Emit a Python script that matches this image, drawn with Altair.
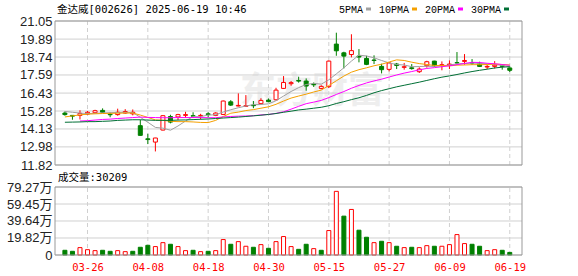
import altair as alt
import pandas as pd

# ---------------- data ----------------
dates = ["03-21", "03-24", "03-25", "03-26", "03-27", "03-28", "03-31", "04-01", "04-02", "04-03",
         "04-07", "04-08", "04-09", "04-10", "04-11", "04-14", "04-15", "04-16", "04-17", "04-18",
         "04-21", "04-22", "04-23", "04-24", "04-25", "04-28", "04-29", "04-30", "05-06", "05-07",
         "05-08", "05-09", "05-12", "05-13", "05-14", "05-15", "05-16", "05-19", "05-20", "05-21",
         "05-22", "05-23", "05-26", "05-27", "05-28", "05-29", "05-30", "06-03", "06-04", "06-05",
         "06-06", "06-09", "06-10", "06-11", "06-12", "06-13", "06-16", "06-17", "06-18", "06-19"]

opens = [15.15, 15.00, 15.00, 15.08, 15.17, 15.32, 15.07, 15.05, 15.15, 15.10,
         14.34, 13.50, 13.29, 14.06, 14.93, 14.90, 15.00, 14.98, 14.97, 15.10,
         15.00, 15.06, 15.87, 15.60, 15.58, 15.66, 15.75, 15.98, 16.00, 16.73,
         17.03, 17.24, 17.20, 17.00, 16.73, 16.84, 19.57, 19.01, 18.90, 18.80,
         18.65, 18.55, 18.14, 17.95, 18.29, 18.08, 18.05, 17.80, 18.18, 18.48,
         18.20, 18.23, 18.38, 18.46, 18.38, 18.31, 18.10, 18.14, 18.18, 18.04]
highs = [15.25, 15.02, 15.33, 15.28, 15.36, 15.45, 15.19, 15.43, 15.40, 15.38,
         14.72, 13.82, 13.56, 15.02, 15.04, 15.10, 15.23, 15.20, 15.10, 15.20,
         15.20, 15.95, 15.98, 16.41, 16.30, 15.92, 16.10, 16.08, 16.77, 17.52,
         17.20, 17.48, 17.37, 17.11, 16.93, 18.52, 20.30, 19.08, 20.20, 19.25,
         18.82, 18.85, 18.31, 18.42, 18.36, 18.36, 18.29, 18.08, 18.50, 18.50,
         18.46, 18.53, 19.06, 18.93, 18.61, 18.44, 18.23, 18.48, 18.27, 18.14]
lows = [14.98, 14.72, 14.74, 15.05, 15.15, 15.18, 14.88, 14.98, 15.10, 15.00,
        13.70, 13.16, 12.69, 14.04, 14.49, 14.70, 14.85, 14.83, 14.74, 14.87,
        14.95, 15.04, 15.60, 15.58, 15.56, 15.46, 15.70, 15.84, 15.96, 16.70,
        16.90, 17.10, 16.58, 16.82, 16.67, 16.75, 18.82, 18.01, 18.72, 18.40,
        18.22, 18.29, 17.69, 17.82, 17.97, 17.93, 17.93, 17.72, 18.06, 18.10,
        17.89, 17.97, 18.25, 18.25, 18.23, 18.10, 17.97, 18.00, 17.93, 17.78]
closes = [15.05, 14.95, 15.13, 15.20, 15.30, 15.20, 15.04, 15.20, 15.25, 15.20,
          13.72, 13.45, 13.55, 14.98, 14.57, 15.05, 15.05, 14.95, 15.00, 15.06,
          15.15, 15.92, 15.66, 15.64, 15.62, 15.62, 15.96, 15.88, 16.62, 17.11,
          17.10, 17.20, 16.88, 16.96, 16.86, 18.48, 19.14, 18.80, 19.15, 18.74,
          18.27, 18.52, 17.93, 18.36, 18.20, 18.12, 18.00, 17.97, 18.44, 18.18,
          18.25, 18.29, 18.36, 18.52, 18.35, 18.14, 18.14, 18.22, 18.14, 17.89]

# volume in 万 (10k)
volumes = [5.5, 4.3, 8.6, 6.2, 5.1, 5.5, 4.3, 5.1, 3.9, 4.3,
           9.0, 11.3, 9.8, 14.4, 12.5, 9.8, 5.1, 5.5, 3.9, 4.3,
           5.1, 18.0, 12.5, 15.6, 10.2, 9.0, 12.1, 7.8, 15.6, 21.5,
           9.8, 6.6, 12.5, 7.4, 5.5, 28.5, 74.2, 45.3, 53.1, 28.9,
           20.7, 14.4, 16.0, 14.4, 10.2, 8.6, 9.0, 8.6, 10.9, 10.2,
           10.2, 12.1, 23.8, 13.3, 12.5, 10.2, 5.1, 6.2, 5.5, 3.02]
# 1 = red (up) volume bar, 0 = green
volume_up = [0, 0, 1, 1, 1, 0, 0, 1, 1, 0,
             0, 0, 1, 1, 0, 1, 1, 0, 1, 0,
             1, 1, 0, 1, 1, 0, 1, 0, 1, 1,
             1, 0, 0, 1, 0, 1, 1, 0, 1, 0,
             0, 1, 0, 1, 0, 1, 0, 1, 1, 0,
             1, 1, 1, 1, 0, 0, 1, 1, 0, 0]

ma5 = [15.25, 15.20, 15.15, 15.12, 15.13, 15.16, 15.17, 15.19, 15.20, 15.18,
       14.88, 14.56, 14.23, 14.18, 14.05, 14.32, 14.64, 14.92, 14.92, 15.02,
       15.04, 15.22, 15.36, 15.49, 15.60, 15.69, 15.70, 15.74, 15.94, 16.24,
       16.53, 16.78, 16.98, 17.05, 17.00, 17.28, 17.66, 18.05, 18.48, 18.86,
       18.81, 18.69, 18.52, 18.36, 18.26, 18.23, 18.12, 18.13, 18.15, 18.14,
       18.17, 18.23, 18.30, 18.32, 18.35, 18.33, 18.30, 18.27, 18.20, 18.11]
ma10 = [14.90, 14.97, 15.03, 15.08, 15.10, 15.12, 15.13, 15.14, 15.15, 15.15,
        15.02, 14.87, 14.71, 14.69, 14.62, 14.60, 14.60, 14.58, 14.55, 14.54,
        14.68, 14.93, 15.14, 15.21, 15.31, 15.37, 15.46, 15.55, 15.71, 15.92,
        16.11, 16.24, 16.36, 16.50, 16.62, 16.91, 17.22, 17.52, 17.77, 17.93,
        18.05, 18.18, 18.28, 18.42, 18.56, 18.52, 18.41, 18.32, 18.26, 18.20,
        18.20, 18.17, 18.22, 18.23, 18.25, 18.25, 18.26, 18.29, 18.26, 18.23]
ma20 = [None, None, 14.64, 14.66, 14.70, 14.74, 14.76, 14.80, 14.83, 14.86,
        14.89, 14.87, 14.86, 14.85, 14.85, 14.86, 14.86, 14.86, 14.86, 14.85,
        14.85, 14.90, 14.93, 14.95, 14.96, 14.98, 15.03, 15.06, 15.13, 15.23,
        15.40, 15.58, 15.75, 15.85, 15.96, 16.14, 16.34, 16.53, 16.74, 16.92,
        17.08, 17.21, 17.32, 17.46, 17.59, 17.71, 17.81, 17.92, 18.01, 18.06,
        18.12, 18.18, 18.25, 18.33, 18.40, 18.39, 18.34, 18.31, 18.26, 18.21]
ma30 = [14.56, 14.57, 14.58, 14.60, 14.60, 14.62, 14.64, 14.68, 14.70, 14.72,
        14.72, 14.70, 14.68, 14.68, 14.68, 14.70, 14.71, 14.73, 14.75, 14.77,
        14.80, 14.83, 14.86, 14.89, 14.93, 14.97, 15.01, 15.06, 15.12, 15.20,
        15.27, 15.35, 15.40, 15.46, 15.52, 15.62, 15.76, 15.88, 16.01, 16.13,
        16.28, 16.45, 16.59, 16.71, 16.83, 16.93, 17.03, 17.13, 17.24, 17.35,
        17.45, 17.53, 17.62, 17.72, 17.81, 17.89, 17.96, 18.04, 18.09, 18.12]

price_ticks = [11.82, 12.98, 14.13, 15.28, 16.43, 17.59, 18.74, 19.89, 21.05]
volume_ticks = [0, 19.82, 39.64, 59.45, 79.27]
label_dates = ["03-26", "04-08", "04-18", "04-30", "05-15", "05-27", "06-09", "06-19"]

title_text = "金达威[002626] 2025-06-19 10:46"
volume_title = "成交量:30209"
watermark_text = "东方财富"
ma_names = ["5PMA", "10PMA", "20PMA", "30PMA"]
ma_colors = ["#a0a0a0", "#f5a000", "#ff00ff", "#006f35"]

# ---------------- styling / layout ----------------
RED = "#ff0000"
GREEN = "#008000"
GRID = "#d0d0d0"
FRAME = "#999999"
MONO = "DejaVu Sans Mono, Noto Sans CJK SC"
SANS = "Liberation Sans, Noto Sans CJK SC"
W = 467            # plot width
H_PRICE = 144      # price panel height
GAP = 22           # gap between panels
H_VOL = 68         # volume panel height
H = H_PRICE + GAP + H_VOL
VOL_TOP = H_PRICE + GAP

n = len(dates)
idx = list(range(n))
label_idx = [dates.index(d) for d in label_dates]

candles = pd.DataFrame({"i": idx, "date": dates, "open": opens, "high": highs,
                        "low": lows, "close": closes})
candles["dir"] = ["up" if c >= o else "down" for o, c in zip(opens, closes)]
vol_df = pd.DataFrame({"i": idx, "vol": volumes,
                       "vdir": ["up" if u else "down" for u in volume_up]})

xscale = alt.Scale(domain=[-0.65, n - 1 + 0.96], nice=False, zero=False)
pscale = alt.Scale(domain=[price_ticks[0], price_ticks[-1]], range=[H_PRICE, 0],
                   nice=False, zero=False)
vscale = alt.Scale(domain=[volume_ticks[0], volume_ticks[-1]], range=[H, VOL_TOP],
                   nice=False, zero=False)
stroke_scale = alt.Scale(domain=["up", "down"], range=[RED, GREEN])
fill_scale = alt.Scale(domain=["up", "down"], range=["#ffffff", GREEN])

labels_js = "[" + ",".join("'%s'" % d for d in label_dates) + "]"
idx_js = "[" + ",".join(str(v) for v in label_idx) + "]"
date_axis = alt.Axis(values=label_idx, labelExpr=f"{labels_js}[indexof({idx_js}, datum.value)]",
                     title=None, grid=False, ticks=False, domain=False, labelPadding=7,
                     labelColor=RED, labelFont=MONO, labelFontSize=10.5,
                     labelOverlap=False, labelFlush=False, orient="bottom")
price_axis = alt.Axis(values=price_ticks, format=".2f", title=None, grid=False, orient="left",
                      ticks=False, domain=False, labelPadding=3, labelFont=SANS,
                      labelFontSize=13, labelColor="#222222", labelBaseline="middle")
vol_axis = alt.Axis(values=volume_ticks, orient="left",
                    labelExpr="datum.value == 0 ? '0' : format(datum.value, '.2f') + '万'",
                    title=None, grid=False, ticks=False, domain=False, labelPadding=3,
                    labelFont=SANS, labelFontSize=13, labelColor="#222222",
                    labelBaseline="middle")

X = alt.X("i:Q", scale=xscale, axis=date_axis)

# ---------------- price panel ----------------
watermark = alt.Chart(pd.DataFrame({"t": [watermark_text]})).mark_text(
    font="Noto Sans CJK SC", fontSize=36, fontWeight="bold", color="#eeeeee",
    align="center", baseline="middle"
).encode(x=alt.value(257), y=alt.value(71), text="t:N")

hgrid = alt.Chart(pd.DataFrame({"p": price_ticks})).mark_rule(
    color=GRID, strokeWidth=1
).encode(y=alt.Y("p:Q", scale=pscale, axis=price_axis))

vgrid = alt.Chart(pd.DataFrame({"i": label_idx, "lo": price_ticks[0], "hi": price_ticks[-1]})).mark_rule(
    color=GRID, strokeWidth=1, strokeDash=[4, 3]
).encode(x=X, y=alt.Y("lo:Q", scale=pscale, axis=price_axis), y2="hi:Q")

wicks = alt.Chart(candles).mark_rule(strokeWidth=1).encode(
    x=X,
    y=alt.Y("low:Q", scale=pscale, axis=price_axis),
    y2="high:Q",
    stroke=alt.Stroke("dir:N", scale=stroke_scale, legend=None),
)

bodies = alt.Chart(candles).mark_bar(size=4, strokeWidth=1).encode(
    x=X,
    y=alt.Y("open:Q", scale=pscale, axis=price_axis),
    y2="close:Q",
    fill=alt.Fill("dir:N", scale=fill_scale, legend=None),
    stroke=alt.Stroke("dir:N", scale=stroke_scale, legend=None),
)

ma_layers = []
for name, color, series in zip(ma_names, ma_colors, [ma5, ma10, ma20, ma30]):
    d = pd.DataFrame({"i": idx, "v": series}).dropna()
    ma_layers.append(
        alt.Chart(d).mark_line(color=color, strokeWidth=1).encode(
            x=X, y=alt.Y("v:Q", scale=pscale, axis=price_axis),
        )
    )

price_frame = alt.Chart(pd.DataFrame({"t": [0]})).mark_rect(
    fillOpacity=0, stroke=FRAME, strokeWidth=1
).encode(x=alt.value(0), x2=alt.value(W), y=alt.value(0), y2=alt.value(H_PRICE))

price_group = alt.layer(watermark, hgrid, vgrid, wicks, bodies, *ma_layers)

# ---------------- volume panel ----------------
vhgrid = alt.Chart(pd.DataFrame({"p": volume_ticks})).mark_rule(
    color=GRID, strokeWidth=1
).encode(y=alt.Y("p:Q", scale=vscale, axis=vol_axis))

vvgrid = alt.Chart(pd.DataFrame({"i": label_idx, "lo": volume_ticks[0], "hi": volume_ticks[-1]})).mark_rule(
    color=GRID, strokeWidth=1, strokeDash=[4, 3]
).encode(x=X, y=alt.Y("lo:Q", scale=vscale, axis=vol_axis), y2="hi:Q")

vbars = alt.Chart(vol_df).mark_bar(size=4, strokeWidth=1).encode(
    x=X,
    y=alt.Y("vol:Q", scale=vscale, axis=vol_axis),
    fill=alt.Fill("vdir:N", scale=fill_scale, legend=None),
    stroke=alt.Stroke("vdir:N", scale=stroke_scale, legend=None),
)

vol_group = alt.layer(vhgrid, vvgrid, vbars)

vol_frame = alt.Chart(pd.DataFrame({"t": [0]})).mark_rect(
    fillOpacity=0, stroke=FRAME, strokeWidth=1
).encode(x=alt.value(0), x2=alt.value(W), y=alt.value(VOL_TOP), y2=alt.value(H))

# ---------------- texts ----------------
title_layer = alt.Chart(pd.DataFrame({"t": [title_text]})).mark_text(
    font=MONO, fontSize=10.5, color="#000000", align="left", baseline="alphabetic"
).encode(x=alt.value(2), y=alt.value(-8), text="t:N")

vtitle = alt.Chart(pd.DataFrame({"t": [volume_title]})).mark_text(
    font=MONO, fontSize=10.5, color="#000000", align="left", baseline="alphabetic"
).encode(x=alt.value(3), y=alt.value(VOL_TOP - 6), text="t:N")

legend_layers = []
lx = 284
for name, color in zip(ma_names, ma_colors):
    one = pd.DataFrame({"t": [name]})
    legend_layers.append(
        alt.Chart(one).mark_text(font="Liberation Mono", fontSize=10, color="#000000",
                                 align="left", baseline="alphabetic")
        .encode(x=alt.value(lx), y=alt.value(-8), text="t:N")
    )
    sx = lx + 6 * len(name) + 3
    legend_layers.append(
        alt.Chart(one).mark_rect(color=color).encode(
            x=alt.value(sx), x2=alt.value(sx + 5), y=alt.value(-13.5), y2=alt.value(-10.5)
        )
    )
    lx = sx + 13

chart = alt.layer(
    price_group, vol_group, price_frame, vol_frame, title_layer, vtitle, *legend_layers
).resolve_scale(
    y="independent"
).properties(
    width=W, height=H,
    padding={"left": 55, "top": 21, "right": 56, "bottom": 21},
    autosize=alt.AutoSizeParams(type="none"),
    background="#ffffff",
).configure_view(stroke=None)

chart.save("out.html", embed_options={"renderer": "svg", "actions": False})
